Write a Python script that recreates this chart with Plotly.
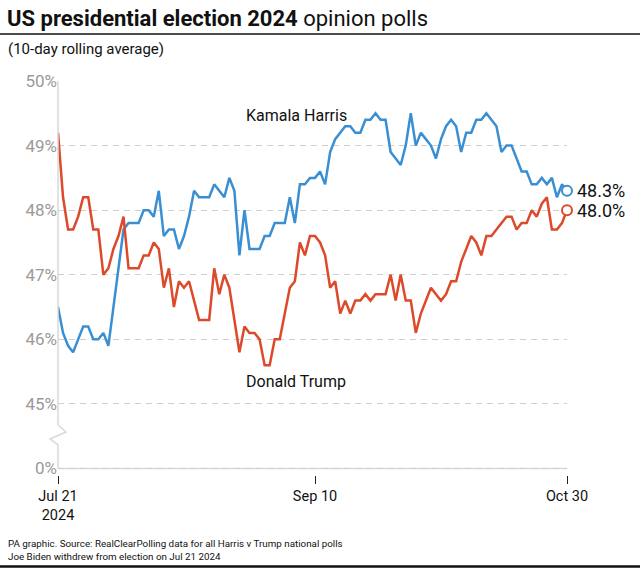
import pandas as pd
import plotly.graph_objects as go

start_date = "2024-07-21"
end_date = "2024-10-30"

harris = [46.5, 46.1, 45.9, 45.8, 46.0, 46.2, 46.2, 46.0, 46.0, 46.1,
          45.9, 46.5, 47.1, 47.7, 47.8, 47.8, 47.8, 48.0, 48.0, 47.9,
          48.3, 47.6, 47.7, 47.7, 47.4, 47.6, 47.9, 48.3, 48.2, 48.2,
          48.2, 48.4, 48.3, 48.2, 48.5, 48.3, 47.3, 48.0, 47.4, 47.4,
          47.4, 47.6, 47.6, 47.8, 47.8, 47.8, 48.2, 47.8, 48.4, 48.4,
          48.5, 48.5, 48.6, 48.4, 48.9, 49.1, 49.2, 49.3, 49.3, 49.2,
          49.2, 49.4, 49.4, 49.5, 49.4, 49.4, 48.9, 48.8, 48.7, 49.0,
          49.5, 49.0, 49.2, 49.1, 49.0, 48.8, 49.1, 49.3, 49.4, 49.3,
          48.9, 49.2, 49.2, 49.4, 49.4, 49.5, 49.4, 49.3, 48.9, 49.0,
          49.0, 48.8, 48.6, 48.6, 48.4, 48.4, 48.5, 48.4, 48.5, 48.2,
          48.4, 48.3]

trump = [49.2, 48.2, 47.7, 47.7, 47.9, 48.2, 48.2, 47.7, 47.7, 47.0,
         47.1, 47.4, 47.6, 47.9, 47.1, 47.1, 47.1, 47.3, 47.3, 47.5,
         47.4, 46.8, 47.1, 46.5, 46.9, 46.8, 46.9, 46.6, 46.3, 46.3,
         46.3, 47.1, 46.7, 47.0, 46.8, 46.3, 45.8, 46.2, 46.1, 46.1,
         46.0, 45.6, 45.6, 46.0, 46.0, 46.4, 46.8, 46.9, 47.5, 47.3,
         47.6, 47.6, 47.5, 47.3, 46.8, 46.9, 46.4, 46.6, 46.4, 46.6,
         46.6, 46.7, 46.6, 46.7, 46.7, 46.7, 47.0, 46.6, 47.0, 46.6,
         46.6, 46.1, 46.4, 46.6, 46.8, 46.7, 46.6, 46.7, 46.9, 46.9,
         47.2, 47.4, 47.6, 47.5, 47.3, 47.6, 47.6, 47.7, 47.8, 47.9,
         47.9, 47.7, 47.8, 47.8, 48.0, 47.9, 48.1, 48.2, 47.7, 47.7,
         47.8, 48.0]

x_tick_vals = ["2024-07-21", "2024-09-10", "2024-10-30"]
x_tick_text = ["Jul 21<br>2024", "Sep 10", "Oct 30"]
# axis has a break: position 44 stands for 0%
y_tick_vals = [44, 45, 46, 47, 48, 49, 50]
y_tick_text = ["0%", "45%", "46%", "47%", "48%", "49%", "50%"]

dates = pd.date_range(start_date, end_date, freq="D")

BLUE = "#3a8fd3"
RED = "#dc4a2b"
FONT = "Roboto"

W, H = 640, 569
L, R, T, B = 58.3, 566.7, 81, 475
PW, PH = R - L, B - T


def px(x):
    return (x - L) / PW


def py(y):
    return (B - y) / PH


fig = go.Figure()
fig.add_trace(go.Scatter(x=dates, y=harris, mode="lines", line=dict(color=BLUE, width=2.5),
                         cliponaxis=False, hoverinfo="skip", showlegend=False))
fig.add_trace(go.Scatter(x=dates, y=trump, mode="lines", line=dict(color=RED, width=2.5),
                         cliponaxis=False, hoverinfo="skip", showlegend=False))
fig.add_trace(go.Scatter(x=[dates[-1]], y=[harris[-1]], mode="markers", cliponaxis=False,
                         marker=dict(size=10, color="white", line=dict(color=BLUE, width=2)),
                         hoverinfo="skip", showlegend=False))
fig.add_trace(go.Scatter(x=[dates[-1]], y=[trump[-1]], mode="markers", cliponaxis=False,
                         marker=dict(size=10, color="white", line=dict(color=RED, width=2)),
                         hoverinfo="skip", showlegend=False))

fig.update_xaxes(range=[dates[0], dates[-1]], tickvals=x_tick_vals, ticktext=x_tick_text,
                 ticks="outside", ticklen=8, tickcolor="#222", tickwidth=1,
                 showgrid=False, showline=False, zeroline=False,
                 tickfont=dict(family=FONT, size=14.5, color="#111"))
fig.update_yaxes(range=[43.9, 50], tickvals=y_tick_vals, ticktext=y_tick_text,
                 showgrid=True, gridcolor="#cfcfcf", griddash="6px,5px", gridwidth=1,
                 showline=False, zeroline=False, ticks="",
                 tickfont=dict(family=FONT, size=17, color="#9a9a9a"))

shapes = []
# solid 0% baseline
shapes.append(dict(type="line", xref="paper", yref="y", x0=0, x1=1, y0=44, y1=44,
                   line=dict(color="#d9d9d9", width=1.5), layer="below"))
# left axis line with break
shapes.append(dict(type="line", xref="paper", yref="y", x0=0, x1=0, y0=50, y1=44.675,
                   line=dict(color="#d9d9d9", width=1.5)))
shapes.append(dict(type="line", xref="paper", yref="y", x0=0, x1=0, y0=44.37, y1=44,
                   line=dict(color="#d9d9d9", width=1.5)))
shapes.append(dict(type="path", xref="paper", yref="y", xsizemode="pixel", ysizemode="pixel",
                   xanchor=0, yanchor=44.52,
                   path="M0,10 L8,3 L-8,-4 L0,-10",
                   line=dict(color="#d9d9d9", width=1.5)))
# title rule and bottom rule
shapes.append(dict(type="line", xref="paper", yref="paper", x0=px(0), x1=px(640),
                   y0=py(34), y1=py(34), line=dict(color="#111", width=1.5)))
shapes.append(dict(type="line", xref="paper", yref="paper", x0=px(0), x1=px(640),
                   y0=py(566.5), y1=py(566.5), line=dict(color="#111", width=2.5)))

annotations = [
    dict(text="<b>US presidential election 2024</b> opinion polls", xref="paper", yref="paper",
         x=px(5), y=py(18), xanchor="left", yanchor="middle", showarrow=False,
         font=dict(family=FONT, size=22, color="#111")),
    dict(text="(10-day rolling average)", xref="paper", yref="paper",
         x=px(6), y=py(49), xanchor="left", yanchor="middle", showarrow=False,
         font=dict(family=FONT, size=15, color="#111")),
    dict(text="PA graphic. Source: RealClearPolling data for all Harris v Trump national polls<br>"
              "Joe Biden withdrew from election on Jul 21 2024",
         xref="paper", yref="paper", x=px(6), y=py(549.5), xanchor="left", yanchor="middle",
         align="left", showarrow=False, font=dict(family=FONT, size=9.8, color="#111")),
    dict(text="Kamala Harris", xref="paper", yref="paper", x=px(244), y=py(115),
         xanchor="left", yanchor="middle", showarrow=False,
         font=dict(family=FONT, size=16, color="#111")),
    dict(text="Donald Trump", xref="paper", yref="paper", x=px(244), y=py(381),
         xanchor="left", yanchor="middle", showarrow=False,
         font=dict(family=FONT, size=16, color="#111")),
    dict(text=f"{harris[-1]:.1f}%", x=dates[-1], y=harris[-1], xshift=8, xanchor="left",
         yanchor="middle", showarrow=False, font=dict(family=FONT, size=18, color="#111")),
    dict(text=f"{trump[-1]:.1f}%", x=dates[-1], y=trump[-1], xshift=8, xanchor="left",
         yanchor="middle", showarrow=False, font=dict(family=FONT, size=18, color="#111")),
]

fig.update_layout(width=W, height=H, margin=dict(l=L, r=W - R, t=T, b=H - B),
                  paper_bgcolor="white", plot_bgcolor="white",
                  shapes=shapes, annotations=annotations, showlegend=False)

fig.write_html("out.html", config={"displayModeBar": False},
               post_script="document.body.style.margin='0';document.body.style.overflow='hidden';")
